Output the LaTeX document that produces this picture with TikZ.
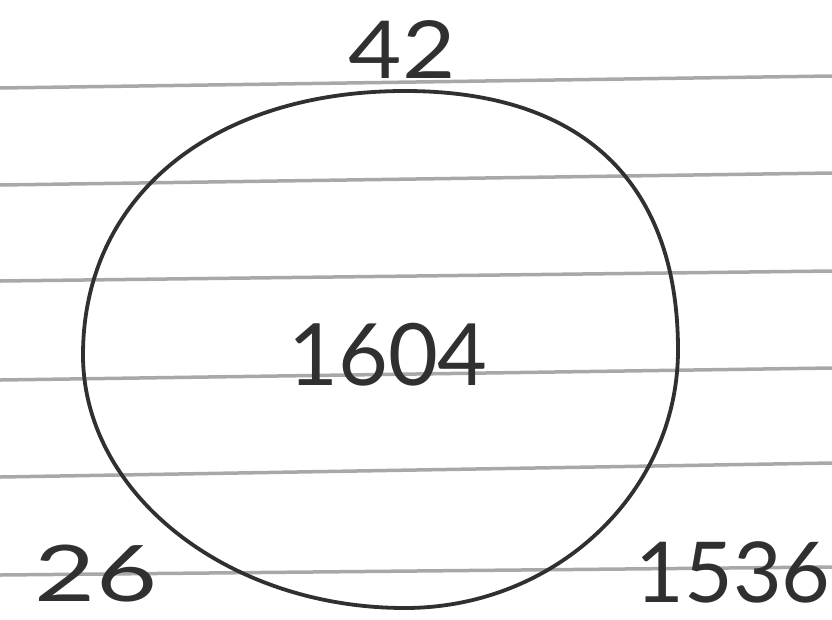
\documentclass[tikz,border=0pt]{standalone}
\usepackage{fontspec}
\setmainfont{Lato}
\definecolor{ruling}{HTML}{A8A8A8}
\definecolor{ink}{HTML}{303030}
\begin{document}
\begin{tikzpicture}[x=1pt,y=-1pt,
  rule/.style={draw=ruling,line width=3.5pt},
  pen/.style={draw=ink,line width=3.8pt,line join=round},
  num/.style={text=ink,inner sep=0pt,anchor=center}]
\useasboundingbox[fill=white] (0,0) rectangle (832,619);
% ruled lines
\foreach \a/\b in {88/76,185/173,281/271,380/368,477/463,575/567}
  \draw[rule] (0,\a) -- (832,\b);
% hand-drawn circle
\coordinate (ct) at (405,91);
\coordinate (cr) at (678,350);
\coordinate (cb) at (405,608);
\coordinate (cl) at (83,355);
\draw[pen] (ct) .. controls (582,91) and (678,182) .. (cr)
  .. controls (678,492) and (556,608) .. (cb)
  .. controls (228,608) and (83,494) .. (cl)
  .. controls (83,197) and (212,91) .. (ct) -- cycle;
% numbers
\node[num,font=\fontsize{80}{80}\selectfont] (n42) at (402,50) {\scalebox{1.15}[1]{42}};
\node[num,font=\fontsize{86}{86}\selectfont] (n1604) at (388,355) {1604};
\node[num,font=\fontsize{78}{78}\selectfont] (n26) at (96,574) {\scalebox{1.35}[1]{26}};
\node[num,font=\fontsize{84}{84}\selectfont] (n1536) at (733,572) {1536};
\end{tikzpicture}
\end{document}
